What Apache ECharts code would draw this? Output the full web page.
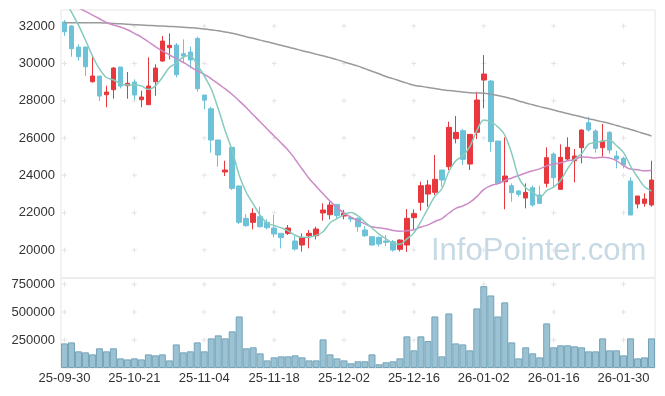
<!DOCTYPE html>
<html><head><meta charset="utf-8">
<script src="https://cdn.jsdelivr.net/npm/echarts@6/dist/echarts.min.js"></script>
<style>html,body{margin:0;padding:0;background:#fff}#c{width:665px;height:396px}</style>
</head><body><div id="c"></div>
<script>
const dates = ["25-09-30","25-10-01","25-10-02","25-10-10","25-10-13","25-10-14","25-10-15","25-10-16","25-10-17","25-10-20",
"25-10-21","25-10-22","25-10-23","25-10-24","25-10-27","25-10-28","25-10-29","25-10-30","25-10-31","25-11-03",
"25-11-04","25-11-05","25-11-06","25-11-07","25-11-10","25-11-11","25-11-12","25-11-13","25-11-14","25-11-17",
"25-11-18","25-11-19","25-11-20","25-11-21","25-11-24","25-11-25","25-11-26","25-11-27","25-11-28","25-12-01",
"25-12-02","25-12-03","25-12-04","25-12-05","25-12-08","25-12-09","25-12-10","25-12-11","25-12-12","25-12-15",
"25-12-16","25-12-17","25-12-18","25-12-19","25-12-22","25-12-23","25-12-24","25-12-26","25-12-29","25-12-30",
"26-01-02","26-01-05","26-01-06","26-01-07","26-01-08","26-01-09","26-01-12","26-01-13","26-01-14","26-01-15",
"26-01-16","26-01-19","26-01-20","26-01-21","26-01-22","26-01-23","26-01-26","26-01-27","26-01-28","26-01-29",
"26-01-30","26-02-02","26-02-03","26-02-04","26-02-05"];
const open = [32214,32000,30875,30875,29017,29321,28320,28588,29804,28802,29000,28052,27784,29016,30125,30838,30982,30516,30607,31339,
28304,27570,25893,24179,25500,23429,21696,21482,21786,21482,21179,20893,20893,20482,20268,20768,20768,21982,21893,22446,
21821,21732,21696,21071,20714,20679,20482,20446,20036,20268,21732,22554,23000,23089,24286,24464,25964,26393,24607,26304,
29107,29054,25839,23659,23446,23161,22786,23339,22946,23571,25143,23250,24875,24786,25482,26821,26375,25482,26304,25036,
24911,23696,22464,22500,22411];
const close = [31695,30786,30357,29820,29321,28250,28464,29750,28786,28930,28304,28196,28786,29750,31196,30966,29393,30393,30179,28641,
28036,25893,25089,24286,23303,21482,21304,21964,21250,21196,20857,20661,21179,20054,20661,20893,21125,22143,22411,21839,
21964,21660,21250,20768,20268,20321,20411,20000,20536,21698,21946,23446,23482,23786,23750,26571,26304,24857,26196,28036,
29429,25804,23571,23964,23071,22982,23089,22411,22500,24946,23875,24964,25500,25036,26429,26429,25446,25839,25357,24875,
24554,21875,22893,22732,23750];
const low = [31464,30357,30140,29321,28963,27982,27645,28105,28660,28105,28036,27645,27784,28266,30088,30216,29250,30000,29732,28480,
27538,25213,24464,23964,23214,21390,21250,21107,21190,21107,20679,20089,20804,19964,19911,20089,20571,21571,21643,21700,
21643,21500,20982,20696,20232,20179,20214,19911,19929,19893,21071,22107,22321,22946,23400,24286,25714,24554,24286,25946,
27589,25268,23482,22179,22589,22857,22232,22321,22464,23357,23393,23232,24821,23625,24643,26339,25214,24998,25161,24375,
24375,21875,22232,22321,22321];
const high = [32321,32050,31020,30893,30446,29321,28802,29804,29804,29536,29145,28534,30323,29948,31464,31609,31089,31286,30893,31427,
28304,27677,25893,24784,25534,23464,21929,22232,22321,21643,21875,20893,21339,20750,20893,21071,21250,22500,22589,22446,
22143,21800,21750,21286,20714,20714,20804,20536,20571,22196,22179,23661,23750,25089,24286,26875,27179,26482,26214,28482,
30446,29107,25839,26036,23571,23214,23571,23446,23446,25500,25232,25661,26036,25411,26464,27143,26464,26750,26375,25321,
25000,23893,22893,23036,24786];
const volume = [220000,229000,149000,140000,122000,176000,149000,176000,86000,77000,86000,77000,122000,113000,122000,68000,211000,140000,149000,229000,
149000,265000,292000,265000,328000,461000,176000,185000,131000,68000,95000,104000,104000,113000,95000,68000,68000,256000,122000,86000,
68000,42000,60000,60000,122000,33000,51000,60000,86000,283000,158000,283000,241000,461000,104000,488000,220000,211000,158000,533000,
732000,649000,461000,587000,229000,86000,185000,131000,95000,399000,185000,203000,203000,194000,185000,149000,149000,265000,158000,158000,
113000,265000,86000,95000,265000];
const ma5 = [33450,32750,32054,31250,30396,29707,29242,29121,28914,28836,28847,28793,28600,28793,29246,29779,30018,30340,30425,29914,
29328,28628,27568,26389,25321,24011,23093,22468,21861,21439,21314,21186,21029,20789,20682,20690,20782,20975,21447,21682,
21896,22003,21825,21496,21182,20853,20604,20354,20307,20593,20918,21525,22222,22872,23282,24207,24779,25054,25536,26393,
26964,26864,26607,26161,25168,23878,23335,23103,22811,23186,23364,23739,24357,24864,25161,25672,25768,25836,25900,25589,
25214,24500,23911,23386,23161];
const ma20 = [33380,33184,32986,32788,32590,32391,32193,32059,31947,31802,31609,31411,31159,30902,30672,30463,30250,30050,29830,29598,
29415,29171,28907,28630,28330,27991,27633,27244,26867,26480,26108,25731,25351,24866,24339,23836,23422,23010,22621,22281,
21978,21766,21574,21398,21246,21188,21144,21046,21010,21035,21089,21229,21344,21530,21685,21969,22228,22363,22553,22863,
23236,23443,23559,23719,23859,23992,24126,24246,24345,24507,24604,24679,24780,24843,24977,24970,24927,24976,24934,24776,
24532,24336,24302,24240,24274];
const ma60 = [32177,32177,32177,32177,32177,32177,32157,32140,32118,32097,32075,32050,32033,32016,32000,31981,31963,31941,31915,31888,
31845,31796,31743,31684,31615,31525,31432,31341,31245,31154,31063,30967,30875,30779,30682,30591,30495,30404,30307,30200,
30082,29965,29852,29718,29579,29440,29300,29182,29059,28941,28829,28770,28711,28652,28593,28550,28508,28465,28427,28414,
28400,28352,28277,28197,28100,27988,27875,27779,27683,27591,27500,27404,27313,27216,27125,27034,26954,26868,26777,26675,
26568,26461,26343,26231,26113];
const priceTicks = [20000,22000,24000,26000,28000,30000,32000];
const volumeTicks = [250000,500000,750000];
const labelEvery = 10;

const chart = echarts.init(document.getElementById('c'), null, {renderer:'canvas'});
const font = 'Liberation Sans, Arial, sans-serif';
const crossIdx = dates.map((d,i)=>i).filter(i=>i%labelEvery===0);
const priceCross = [], volCross = [];
crossIdx.forEach(i=>{ priceTicks.forEach(v=>priceCross.push([dates[i],v])); volumeTicks.forEach(v=>volCross.push([dates[i],v])); });
const plus = 'path://M2,0h1v5h-1z M0,2h5v1h-5z';
const candleData = dates.map((d,i)=>[open[i],close[i],low[i],high[i]]);

chart.setOption({
  animation:false,
  backgroundColor:'#fff',
  grid:[
    {left:61, top:10, width:594, height:268, show:true, borderColor:'#e6e6e6', borderWidth:1},
    {left:61, top:278, width:594, height:90, show:true, borderColor:'#e6e6e6', borderWidth:1}
  ],
  xAxis:[
    {type:'category', gridIndex:0, data:dates, boundaryGap:true, axisLine:{show:false}, axisTick:{show:false}, axisLabel:{show:false}, splitLine:{show:false}},
    {type:'category', gridIndex:1, data:dates, boundaryGap:true, axisLine:{show:false}, axisTick:{show:false}, splitLine:{show:false},
     axisLabel:{interval:labelEvery-1, color:'#333', fontSize:13, fontFamily:font, margin:4}}
  ],
  yAxis:[
    {type:'value', gridIndex:0, min:18500, max:32860, interval:500, axisLine:{show:false}, axisTick:{show:false}, splitLine:{show:false},
     axisLabel:{color:'#333', fontSize:13, fontFamily:font, margin:6, formatter:v=>priceTicks.includes(v)?String(v):''}},
    {type:'value', gridIndex:1, min:0, max:805000, interval:250000, axisLine:{show:false}, axisTick:{show:false}, splitLine:{show:false},
     axisLabel:{color:'#333', fontSize:13, fontFamily:font, margin:6, formatter:v=>volumeTicks.includes(v)?String(v):''}}
  ],
  graphic:[{type:'text', left:431, top:236, silent:true, z:0,
    style:{text:'InfoPointer.com', font:'31px Liberation Sans, Arial, sans-serif', fill:'#c6d9e4'}}],
  series:[
    {type:'scatter', xAxisIndex:0, yAxisIndex:0, data:priceCross, symbol:plus, symbolSize:5, silent:true, itemStyle:{color:'#dcdcdc'}, z:1},
    {type:'scatter', xAxisIndex:1, yAxisIndex:1, data:volCross, symbol:plus, symbolSize:5, silent:true, itemStyle:{color:'#dcdcdc'}, z:1},
    {type:'candlestick', xAxisIndex:0, yAxisIndex:0, data:candleData, barWidth:5,
     itemStyle:{color:'#e8383d', color0:'#6dc2d8', borderColor:'#e8383d', borderColor0:'#6dc2d8', borderWidth:1}, z:2},
    {type:'line', xAxisIndex:0, yAxisIndex:0, data:ma60, showSymbol:false, smooth:true, lineStyle:{color:'#9a9a9a', width:1.5}, z:3},
    {type:'line', xAxisIndex:0, yAxisIndex:0, data:ma20, showSymbol:false, smooth:true, lineStyle:{color:'#cc8ac6', width:1.5}, z:3},
    {type:'line', xAxisIndex:0, yAxisIndex:0, data:ma5, showSymbol:false, smooth:0.3, lineStyle:{color:'#86cbbd', width:1.5}, z:3},
    {type:'bar', xAxisIndex:1, yAxisIndex:1, data:volume, barCategoryGap:'0%',
     itemStyle:{color:'#9bc2d2', borderColor:'#74a3b9', borderWidth:1}, z:2}
  ]
});
</script></body></html>
